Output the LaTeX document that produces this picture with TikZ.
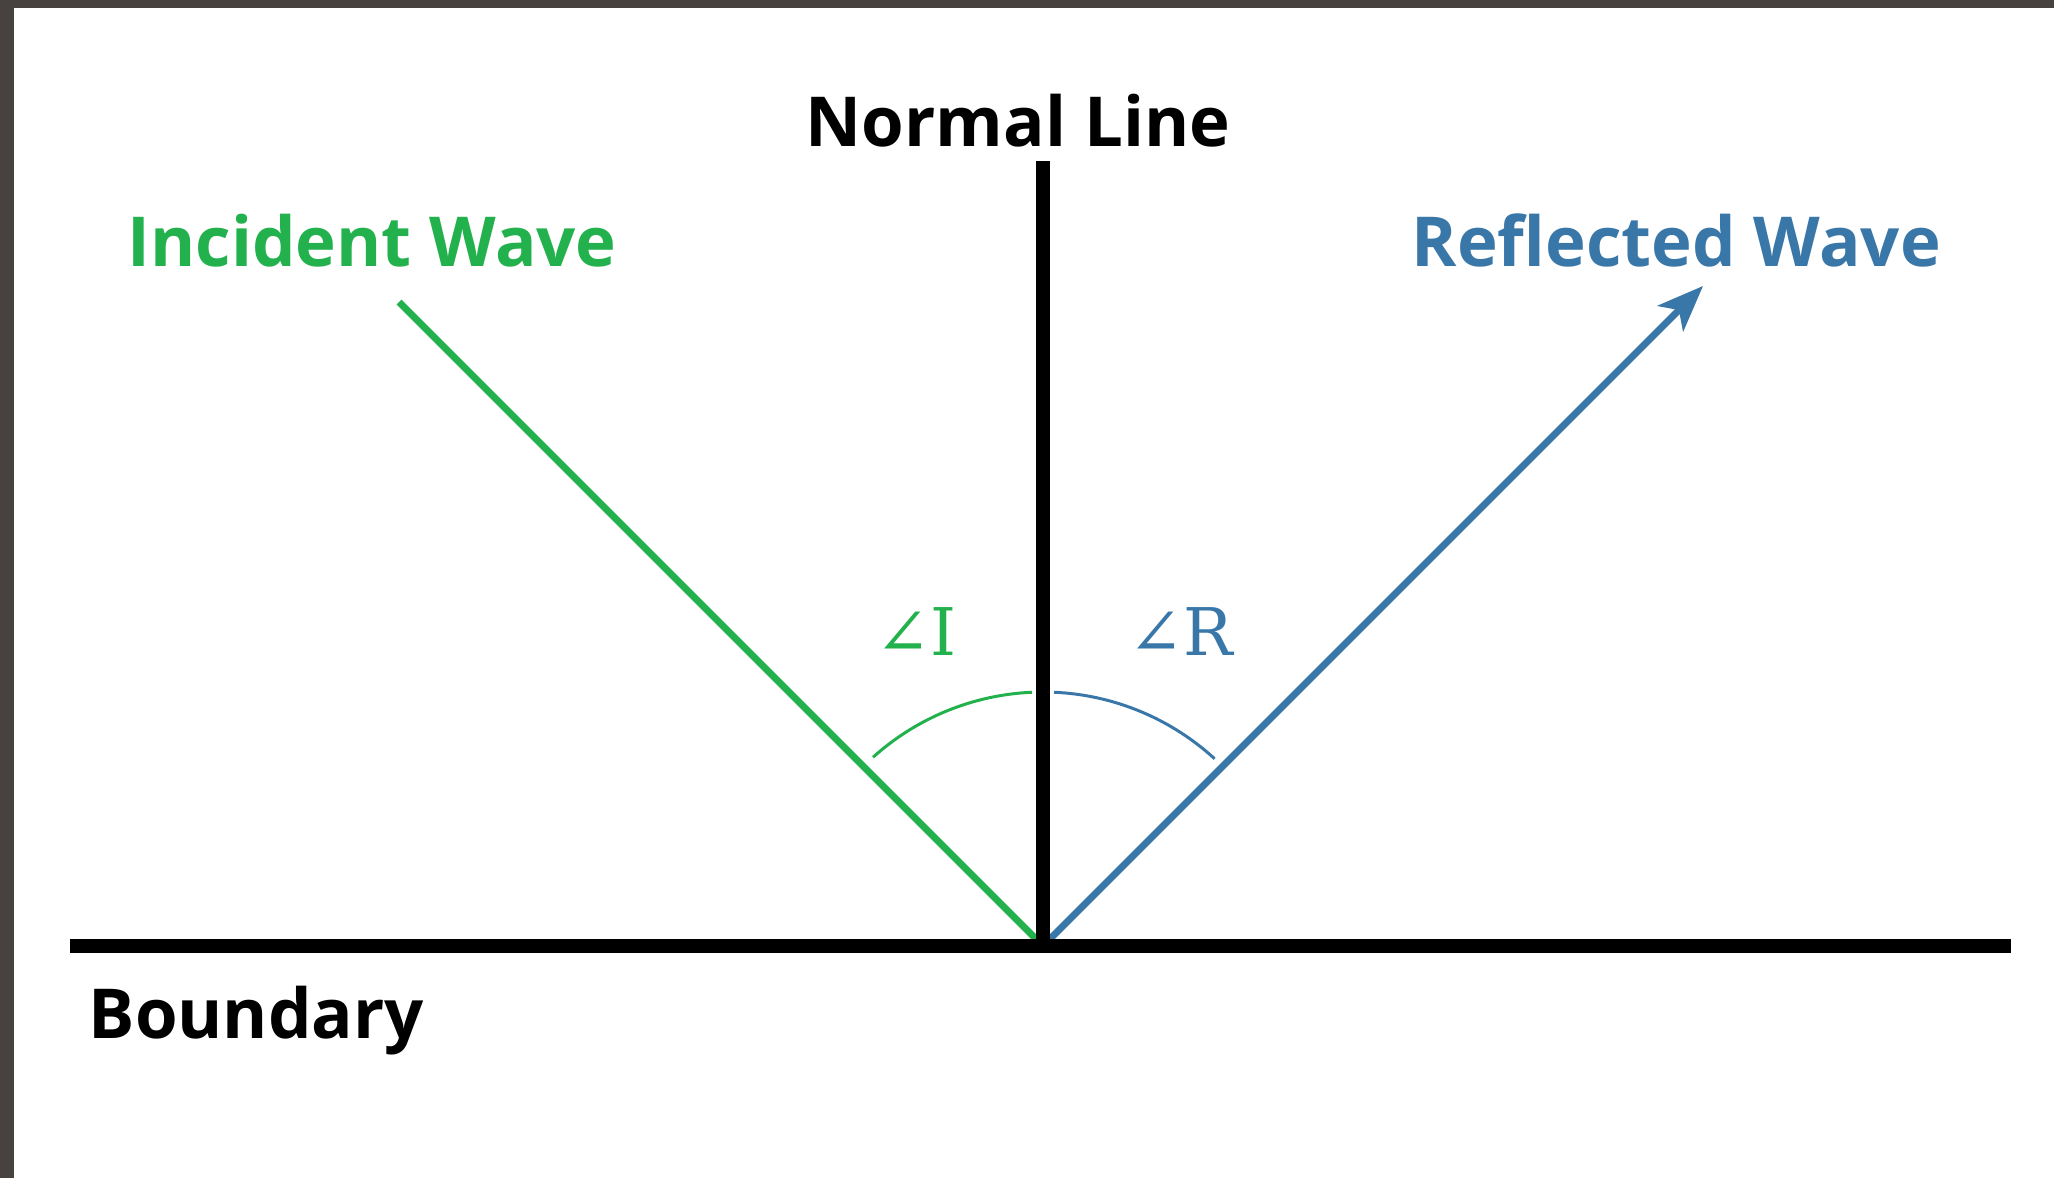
\documentclass[tikz,border=0pt]{standalone}
\usepackage{fontspec}
\setmainfont{Open Sans}
\newfontfamily\serifang{DejaVu Serif}
\usetikzlibrary{arrows.meta}
\definecolor{cmarco}{HTML}{474140}
\definecolor{cincid}{HTML}{22B14C}
\definecolor{crefl}{HTML}{3A77A9}
\tikzset{
  linea/.style={draw=black,line width=4pt},
  rayoi/.style={draw=cincid,line width=2pt},
  rayor/.style={draw=crefl,line width=2pt,-{Stealth[length=4.6mm,width=3.6mm,inset=1.2mm]}},
  arcoi/.style={draw=cincid,line width=0.85pt},
  arcor/.style={draw=crefl,line width=0.85pt},
  tit/.style={font=\fontsize{19.6}{24}\selectfont\bfseries,inner sep=0pt},
  ang/.style={font=\serifang\fontsize{18.7}{22}\selectfont,inner sep=0pt},
}
\begin{document}
\begin{tikzpicture}[x=0.01cm,y=0.01cm]

% ---------------- fondo y marco ----------------
\fill[white] (0,0) rectangle (2054,1178);
\useasboundingbox (0,0) rectangle (2054,1178);
\fill[cmarco] (0,0) rectangle (14,1178);
\fill[cmarco] (0,1170) rectangle (2054,1178);

% ---------------- puntos ----------------
\coordinate (o)  at (1043,232);
\coordinate (bi) at (70,232);
\coordinate (bd) at (2011,232);
\coordinate (nt) at (1043,1017);
\coordinate (ii) at (399,876);
\coordinate (rf) at (1703,892);

% ---------------- rayos y arcos ----------------
\draw[rayoi] (ii) -- (o);
\draw[rayor] (o) -- (rf);
\draw[arcoi] ([shift={(92.5:254)}]o) arc[start angle=92.5,end angle=132,radius=254];
\draw[arcor] ([shift={(87.5:254)}]o) arc[start angle=87.5,end angle=47.5,radius=254];

% ---------------- frontera y normal ----------------
\draw[linea] (bi) -- (bd);
\draw[linea] (o) -- (nt);

% ---------------- textos ----------------
\node[tit,anchor=base] (tnormal) at (1018,1031) {Normal Line};
\node[tit,anchor=base west,text=cincid] (tincid) at (127,911) {Incident Wave};
\node[tit,anchor=base west,text=crefl] (trefl) at (1411,911) {Reflected Wave};
\node[tit,anchor=base west] (tbound) at (88,140) {Boundary};
\node[ang,anchor=base west,text=cincid] (ai) at (875,522) {∠I};
\node[ang,anchor=base west,text=crefl] (ar) at (1128,522) {∠R};

\end{tikzpicture}
\end{document}
